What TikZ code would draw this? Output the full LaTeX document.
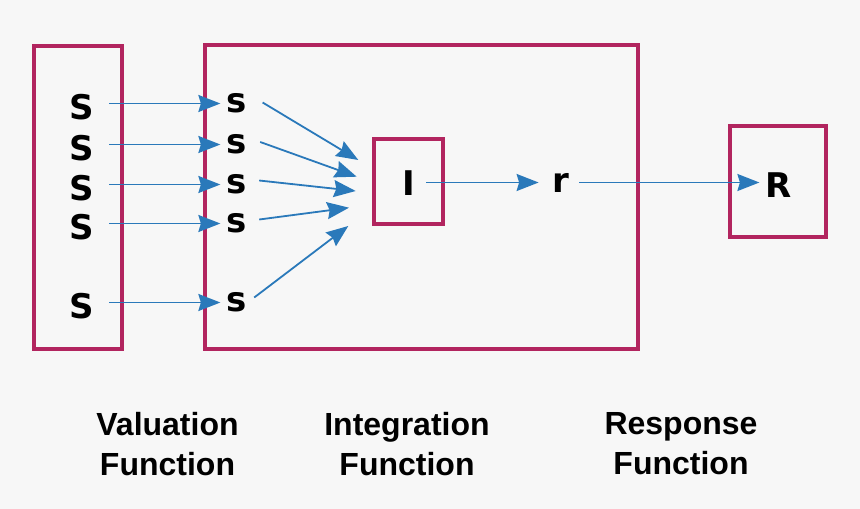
\documentclass[tikz,border=0pt]{standalone}
\usepackage{fontspec}
\setmainfont{Liberation Sans}
\newfontfamily\symfont{DejaVu Sans}
\usepackage{tikz}
\usetikzlibrary{arrows.meta}

\definecolor{boxred}{RGB}{178,37,95}
\definecolor{arrblue}{RGB}{42,121,186}
\definecolor{paper}{RGB}{247,247,247}

\begin{document}
\begin{tikzpicture}[x=1pt, y=-1pt,
        every node/.append style={inner sep=0pt, outer sep=0pt}]
      \tikzstyle{box} = [draw=boxred, line width=4.5pt]
      \tikzstyle{letter} = [font=\symfont\bfseries\fontsize{34}{34}\selectfont, color=black]
      \tikzstyle{sig} = [font=\symfont\bfseries\fontsize{34}{34}\selectfont, color=black]
      \tikzstyle{caption} = [font=\bfseries\fontsize{32}{40}\selectfont, align=center]
      \tikzstyle{arr} = [draw=arrblue, line width=1.8pt,
        -{Stealth[length=22pt, width=17pt, inset=2.5pt]}]
      \fill[paper] (0,0) rectangle (860,509);
      \useasboundingbox (0,0) rectangle (860,509);
      % boxes
      \node (valbox) [box, minimum width=88, minimum height=303] at (78,197.5) {};
      \node (intbox) [box, minimum width=433, minimum height=304] at (421.5,197) {};
      \node (ibox) [box, minimum width=69, minimum height=85] at (408.5,181.5) {};
      \node (rbox) [box, minimum width=96, minimum height=111] at (778,181.5) {};
      % stimuli
      \node (S1) [letter] at (82,107) {S};
      \node (S2) [letter] at (82,148) {S};
      \node (S3) [letter] at (82,188) {S};
      \node (S4) [letter] at (82,227) {S};
      \node (S5) [letter] at (82,306) {S};
      \node (s1) [sig] at (236.5,103.5) {s};
      \node (s2) [sig] at (236.5,144.5) {s};
      \node (s3) [sig] at (236.5,184.5) {s};
      \node (s4) [sig] at (236.5,223.5) {s};
      \node (s5) [sig] at (236.5,302.5) {s};
      \node (I) [letter] at (409,183.5) {I};
      \node (r) [sig] at (561,182.5) {r};
      \node (R) [letter] at (778.5,185) {R};
      \coordinate (in1) at (358.3,160);
      \coordinate (in2) at (356.7,176.7);
      \coordinate (in3) at (355.7,191);
      \coordinate (in4) at (349,207.7);
      \coordinate (in5) at (348.3,226);
      % S to s
      \draw[arr] (S1.east |- s1.west) ++(15,0) -- ([xshift=-6pt]s1.west);
      \draw[arr] (S2.east |- s2.west) ++(15,0) -- ([xshift=-6pt]s2.west);
      \draw[arr] (S3.east |- s3.west) ++(15,0) -- ([xshift=-6pt]s3.west);
      \draw[arr] (S4.east |- s4.west) ++(15,0) -- ([xshift=-6pt]s4.west);
      \draw[arr] (S5.east |- s5.west) ++(15,0) -- ([xshift=-6pt]s5.west);
      % s into I
      \draw[arr] ([xshift=16pt,yshift=1pt]s1.east) -- (in1);
      \draw[arr] ([xshift=13.6pt,yshift=2.5pt]s2.east) -- (in2);
      \draw[arr] ([xshift=12.6pt,yshift=4pt]s3.east) -- (in3);
      \draw[arr] ([xshift=12.6pt,yshift=4pt]s4.east) -- (in4);
      \draw[arr] ([xshift=7.6pt,yshift=5pt]s5.east) -- (in5);
      % I to r to R
      \draw[arr] ([xshift=11pt]I.east |- r.west) -- ([xshift=-14pt]r.west);
      \draw[arr] ([xshift=10pt]r.east) -- ([xshift=-6pt]R.west |- r.west);
      % captions
      \node (vallabel) [caption] at (167.5,444) {Valuation\\Function};
      \node (intlabel) [caption] at (407,444) {Integration\\Function};
      \node (reslabel) [caption] at (681,444) {Response\\Function};
    \end{tikzpicture}
\end{document}
